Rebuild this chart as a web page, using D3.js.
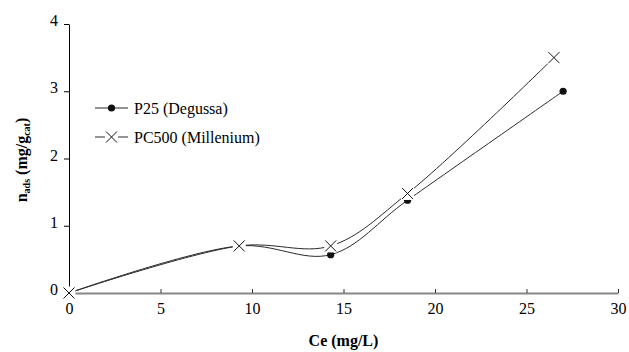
<!DOCTYPE html>
<html>
<head>
<meta charset="utf-8">
<script src="https://cdn.jsdelivr.net/npm/d3@7"></script>
<style>
  body { margin: 0; background: #fff; }
  text { font-family: "Liberation Serif", serif; }
</style>
</head>
<body>
<svg id="chart" width="629" height="352"></svg>
<script>
// data
var ceP25 = [0, 9.3, 14.3, 18.5, 27.0],
    nP25 = [0, 0.7, 0.57, 1.38, 3.0],
    cePC500 = [0, 9.3, 14.3, 18.5, 26.5],
    nPC500 = [0, 0.7, 0.7, 1.48, 3.5],
    xTicks = [0, 5, 10, 15, 20, 25, 30],
    yTicks = [0, 1, 2, 3, 4],
    seriesNames = ["P25 (Degussa)", "PC500 (Millenium)"];

var serif = "Liberation Serif";

var svg = d3.select("#chart");

var x = d3.scaleLinear().domain([0, 30]).range([69, 618]),
    y = d3.scaleLinear().domain([0, 4]).range([293, 24]);

var lineColor = "#2a2a2a";

function pts(xs, ys){
  return xs.map(function(d, i){ return [d, ys[i]]; });
}

var line = d3.line()
  .x(function(d){ return x(d[0]); })
  .y(function(d){ return y(d[1]); })
  .curve(d3.curveCatmullRom.alpha(0.5));

//x axis (gray, ticks inside)
var xAxis = svg.append("g")
  .attr("transform", "translate(0," + y(0) + ")")
  .call(d3.axisBottom(x).tickValues(xTicks).tickFormat(d3.format("d")).tickSize(-4).tickSizeOuter(0).tickPadding(10));
xAxis.attr("font-family", serif);
xAxis.select(".domain").attr("stroke", "#888").attr("stroke-width", 2);
xAxis.selectAll(".tick line").attr("stroke", "#333");
xAxis.selectAll("text").style("font-family", serif).style("font-size", "16px").attr("fill", "#000");

//y axis
var yAxis = svg.append("g")
  .attr("transform", "translate(" + x(0) + ",0)")
  .call(d3.axisLeft(y).tickValues(yTicks).tickFormat(d3.format("d")).tickSize(5).tickSizeOuter(0).tickPadding(6));
yAxis.attr("font-family", serif);
yAxis.select(".domain").attr("stroke", "#000");
yAxis.selectAll("text").style("font-family", serif).style("font-size", "16px").attr("fill", "#000").attr("dy", "0.1em");

//P25 series
var p25 = pts(ceP25, nP25),
    pc500 = pts(cePC500, nPC500);

svg.append("path")
  .datum(p25)
  .attr("d", line)
  .attr("fill", "none")
  .attr("stroke", lineColor)
  .attr("stroke-width", 1);

svg.selectAll(".dot")
  .data(p25)
  .enter().append("circle")
    .attr("class", "dot")
    .attr("cx", function(d){ return x(d[0]); })
    .attr("cy", function(d){ return y(d[1]); })
    .attr("r", 3.6)
    .attr("fill", "#111");

//PC500 series
svg.append("path")
  .datum(pc500)
  .attr("d", line)
  .attr("fill", "none")
  .attr("stroke", lineColor)
  .attr("stroke-width", 1);

function cross(g, cx, cy, s){
  g.append("rect")
    .attr("x", cx - s - 1).attr("y", cy - s - 1)
    .attr("width", 2 * s + 2).attr("height", 2 * s + 2)
    .attr("fill", "#fff");
  g.append("path")
    .attr("d", "M" + (cx - s) + "," + (cy - s) + "L" + (cx + s) + "," + (cy + s) +
               "M" + (cx - s) + "," + (cy + s) + "L" + (cx + s) + "," + (cy - s))
    .attr("stroke", "#111")
    .attr("stroke-width", 1)
    .attr("fill", "none");
}

var marks = svg.append("g");
pc500.forEach(function(d){ cross(marks, x(d[0]), y(d[1]), 5.5); });

//legend
var legend = svg.append("g");
[108, 137].forEach(function(ly, i){
  legend.append("line")
    .attr("x1", 95).attr("x2", 128)
    .attr("y1", ly).attr("y2", ly)
    .attr("stroke", lineColor);
  if(i == 0){
    legend.append("circle").attr("cx", 111.5).attr("cy", ly).attr("r", 3.6).attr("fill", "#111");
  }
  else{
    cross(legend, 111.5, ly, 5.5);
  }
  legend.append("text")
    .attr("x", 134).attr("y", ly)
    .attr("dy", "0.35em")
    .style("font-family", serif)
    .style("font-size", "16px")
    .text(seriesNames[i]);
});

//axis titles
svg.append("text")
  .attr("x", (x(0) + x(30)) / 2)
  .attr("y", 346)
  .style("text-anchor", "middle")
  .style("font-family", serif)
  .style("font-weight", "bold")
  .style("font-size", "16px")
  .text("Ce (mg/L)");

var yt = svg.append("text")
  .attr("transform", "translate(27," + 160 + ") rotate(-90)")
  .style("text-anchor", "middle")
  .style("font-family", serif)
  .style("font-weight", "bold")
  .style("font-size", "16px");
yt.append("tspan").text("n");
yt.append("tspan").attr("dy", "3").style("font-size", "10px").text("ads");
yt.append("tspan").attr("dy", "-3").text(" (mg/g");
yt.append("tspan").attr("dy", "3").style("font-size", "10px").text("cat");
yt.append("tspan").attr("dy", "-3").text(")");
</script>
</body>
</html>
